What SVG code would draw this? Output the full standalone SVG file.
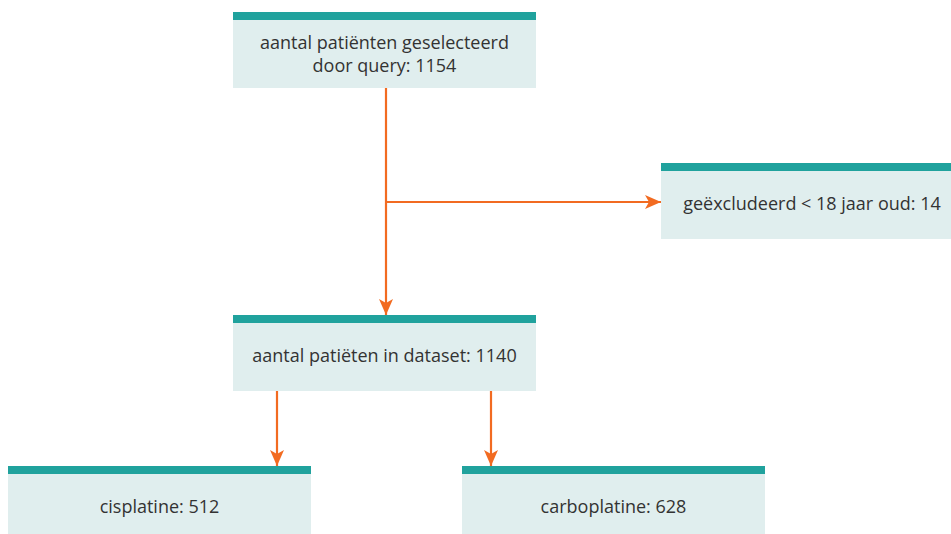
<svg xmlns="http://www.w3.org/2000/svg" width="951" height="534" viewBox="0 0 951 534">
<defs>
<style>
.fill{fill:#E0EEEE}
.bar{fill:#20A29D}
.t{font-family:"Open Sans",Lato,"Liberation Sans",sans-serif;font-size:18px;fill:#333333;text-anchor:middle}
.c{stroke:#F26B21;stroke-width:2.2;fill:none}
</style>
<marker id="ah" viewBox="0 0 16 14" refX="16" refY="7" markerWidth="16" markerHeight="14" markerUnits="userSpaceOnUse" orient="auto">
<path d="M0,0 L16,7 L0,14 L4,7 Z" fill="#F26B21"/>
</marker>
</defs>
<rect width="951" height="534" fill="#FFFFFF"/>
<g id="connectors">
<path class="c" d="M386,88 V315" marker-end="url(#ah)"/>
<path class="c" d="M386,202 H661" marker-end="url(#ah)"/>
<path class="c" d="M277,391 V466" marker-end="url(#ah)"/>
<path class="c" d="M491,391 V466" marker-end="url(#ah)"/>
</g>
<g id="node-query">
<rect class="fill" x="233" y="12" width="303" height="76"/>
<rect class="bar" x="233" y="12" width="303" height="8"/>
<text class="t" x="384.5" y="48.5">aantal patiënten geselecteerd</text>
<text class="t" x="384.5" y="71.5">door query: 1154</text>
</g>
<g id="node-excluded">
<rect class="fill" x="661" y="163" width="290" height="76"/>
<rect class="bar" x="661" y="163" width="290" height="8"/>
<text class="t" x="812" y="210">geëxcludeerd &lt; 18 jaar oud: 14</text>
</g>
<g id="node-dataset">
<rect class="fill" x="233" y="315" width="303" height="76"/>
<rect class="bar" x="233" y="315" width="303" height="8"/>
<text class="t" x="384.5" y="362">aantal patiëten in dataset: 1140</text>
</g>
<g id="node-cisplatine">
<rect class="fill" x="8" y="466" width="303" height="68"/>
<rect class="bar" x="8" y="466" width="303" height="8"/>
<text class="t" x="159.5" y="513">cisplatine: 512</text>
</g>
<g id="node-carboplatine">
<rect class="fill" x="462" y="466" width="303" height="68"/>
<rect class="bar" x="462" y="466" width="303" height="8"/>
<text class="t" x="613.5" y="513">carboplatine: 628</text>
</g>
</svg>
